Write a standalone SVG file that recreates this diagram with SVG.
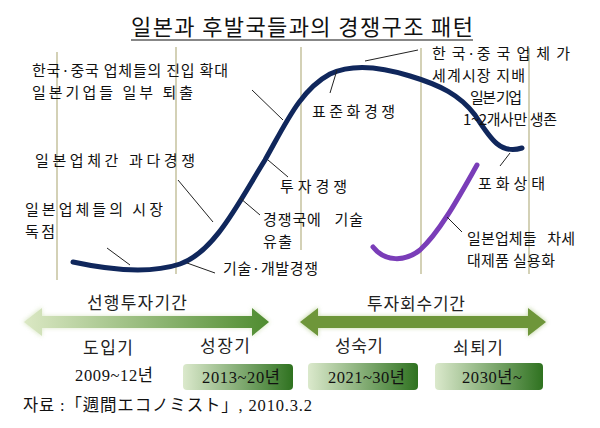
<svg xmlns="http://www.w3.org/2000/svg" width="600" height="428" viewBox="0 0 600 428">
<defs>
<style>
.k{font-family:"Noto Sans CJK KR","Noto Sans",sans-serif;fill:#111}
.l{font-size:15px}
.b{font-size:17px;fill:#222}
.p{white-space:pre}
.n{font-family:"Liberation Serif","Noto Sans CJK KR",serif;font-size:16.5px;fill:#111}
.v{stroke:#c9c6a4;stroke-width:1.6;fill:none}
.ld{stroke:#222;stroke-width:1;fill:none}
</style>
<linearGradient id="ga" x1="0" y1="0" x2="1" y2="0">
<stop offset="0" stop-color="#dbe8c4"/><stop offset="1" stop-color="#4f8c30"/>
</linearGradient>
<linearGradient id="gb" x1="0" y1="0" x2="1" y2="0">
<stop offset="0" stop-color="#dbe9cc"/><stop offset="1" stop-color="#2f7220"/>
</linearGradient>
<filter id="glow" x="-10%" y="-40%" width="120%" height="180%"><feGaussianBlur stdDeviation="2"/></filter>
</defs>
<rect width="600" height="428" fill="#fff"/>

<g id="title">
<text class="k" x="131" y="35" font-size="22" textLength="342" lengthAdjust="spacing">일본과 후발국들과의 경쟁구조 패턴</text>
<line x1="131" y1="40" x2="473" y2="40" stroke="#111" stroke-width="1.2"/>
</g>

<g id="gridlines">
<line class="v" x1="57" y1="52" x2="57" y2="280"/>
<line class="v" x1="176" y1="47" x2="176" y2="274"/>
<line class="v" x1="301" y1="47" x2="301" y2="250"/>
<line class="v" x1="421" y1="48" x2="421" y2="274"/>
<line class="v" x1="529" y1="48" x2="529" y2="274"/>
</g>

<g id="connectors">
<path id="main-curve" d="M73,262 C110,270 150,274 180,264 C215,252 240,200 265,160 C285,125 300,90 330,74 C355,62 385,68 410,76 C440,85 460,95 475,115 C490,138 500,155 522,148" fill="none" stroke="#10275c" stroke-width="5" stroke-linecap="round"/>
<path id="purple-curve" d="M373,247 C385,262 405,262 420,250 C440,232 460,195 477,165" fill="none" stroke="#7a3db8" stroke-width="5" stroke-linecap="round"/>
<line class="ld" x1="252" y1="90" x2="283" y2="120"/>
<line class="ld" x1="330" y1="93" x2="337" y2="70"/>
<line class="ld" x1="365" y1="61" x2="418" y2="50"/>
<line class="ld" x1="178" y1="180" x2="213" y2="222"/>
<line class="ld" x1="268" y1="160" x2="288" y2="177"/>
<line class="ld" x1="240" y1="198" x2="260" y2="215"/>
<line class="ld" x1="107" y1="248" x2="130" y2="265"/>
<line class="ld" x1="187" y1="263" x2="215" y2="273"/>
<line class="ld" x1="500" y1="166" x2="510" y2="153"/>
<line class="ld" x1="447" y1="217" x2="462" y2="232"/>
</g>

<g id="label-entry">
<text class="k l" x="32" y="76" textLength="196" lengthAdjust="spacing">한국·중국 업체들의 진입 확대</text>
<text class="k l" x="32" y="98" textLength="161" lengthAdjust="spacing">일본기업들 일부 퇴출</text>
</g>
<g id="label-excess"><text class="k l" x="35" y="166" textLength="160" lengthAdjust="spacing">일본업체간 과다경쟁</text></g>
<g id="label-monopoly">
<text class="k l" x="25" y="215" textLength="138" lengthAdjust="spacing">일본업체들의 시장</text>
<text class="k l" x="25" y="237" textLength="30" lengthAdjust="spacing">독점</text>
</g>
<g id="label-standard"><text class="k l" x="312" y="117" textLength="83" lengthAdjust="spacing">표준화경쟁</text></g>
<g id="label-invest"><text class="k l" x="280" y="192" textLength="67" lengthAdjust="spacing">투자경쟁</text></g>
<g id="label-leak">
<text class="k l p" x="263" y="225" textLength="100" lengthAdjust="spacing">경쟁국에   기술</text>
<text class="k l" x="263" y="247" textLength="29" lengthAdjust="spacing">유출</text>
</g>
<g id="label-tech"><text class="k l" x="223" y="274" textLength="95" lengthAdjust="spacing">기술·개발경쟁</text></g>
<g id="label-dominate">
<text class="k l" x="432" y="59" textLength="138" lengthAdjust="spacing">한 국·중 국 업 체 가</text>
<text class="k l" x="432" y="81" textLength="93" lengthAdjust="spacing">세계시장 지배</text>
<text class="k l" x="470" y="103" textLength="52" lengthAdjust="spacing">일본 기업</text>
<text class="k l" x="463" y="125" textLength="94" lengthAdjust="spacing">1~2개사만 생존</text>
</g>
<g id="label-saturation"><text class="k l" x="478" y="189" textLength="67" lengthAdjust="spacing">포화상태</text></g>
<g id="label-nextgen">
<text class="k l p" x="467" y="244" textLength="108" lengthAdjust="spacing">일본업체들   차세</text>
<text class="k l" x="467" y="266" textLength="88" lengthAdjust="spacing">대제품 실용화</text>
</g>

<g id="arrow-preinvest">
<polygon points="23,322 42,307 42,316 252,316 252,307 270,322 252,337 252,328 42,328 42,337" fill="#cfe0b4" opacity="0.7" filter="url(#glow)"/>
<polygon points="24,322 42,308 42,316 252,316 252,308 269,322 252,336 252,328 42,328 42,336" fill="url(#ga)"/>
<text class="k b" x="87" y="309" textLength="100" lengthAdjust="spacing">선행투자기간</text>
</g>
<g id="arrow-recovery">
<polygon points="299,322 318,307 318,316 528,316 528,307 547,322 528,337 528,328 318,328 318,337" fill="#b8cf94" opacity="0.8" filter="url(#glow)"/>
<polygon points="300,322 318,308 318,316 528,316 528,308 546,322 528,336 528,328 318,328 318,336" fill="#6e963a"/>
<text class="k b" x="367" y="310" textLength="98" lengthAdjust="spacing">투자회수기간</text>
</g>

<g id="stage-intro">
<text class="k b" x="83" y="354" textLength="50" lengthAdjust="spacing">도입기</text>
<text class="n" x="75" y="381" textLength="78" lengthAdjust="spacing">2009~12년</text>
</g>
<g id="stage-growth">
<text class="k b" x="200" y="352" textLength="50" lengthAdjust="spacing">성장기</text>
<rect x="183" y="364" width="110" height="26" rx="4" fill="url(#gb)"/>
<text class="n" x="202" y="383" textLength="78" lengthAdjust="spacing">2013~20년</text>
</g>
<g id="stage-mature">
<text class="k b" x="335" y="352" textLength="48" lengthAdjust="spacing">성숙기</text>
<rect x="308" y="363" width="110" height="27" rx="4" fill="url(#gb)"/>
<text class="n" x="328" y="383" textLength="77" lengthAdjust="spacing">2021~30년</text>
</g>
<g id="stage-decline">
<text class="k b" x="453" y="354" textLength="50" lengthAdjust="spacing">쇠퇴기</text>
<rect x="435" y="363" width="108" height="27" rx="4" fill="url(#gb)"/>
<text class="n" x="462" y="383" textLength="60" lengthAdjust="spacing">2030년~</text>
</g>

<g id="source">
<text class="n" x="23" y="411" font-size="15" textLength="289" lengthAdjust="spacing">자료 :「週間エコノミスト」, 2010.3.2</text>
</g>
</svg>
